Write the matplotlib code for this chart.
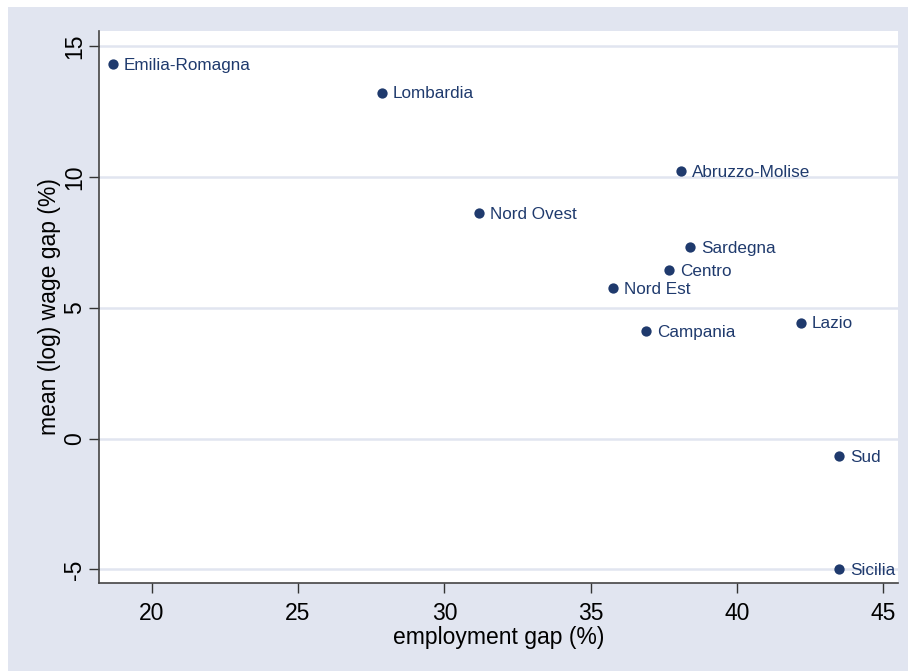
import matplotlib
matplotlib.use('Agg')
import matplotlib.pyplot as plt
from matplotlib.patches import Rectangle

# data
regions = ['Emilia-Romagna', 'Lombardia', 'Abruzzo-Molise', 'Nord Ovest', 'Sardegna',
           'Centro', 'Nord Est', 'Campania', 'Lazio', 'Sud', 'Sicilia']
emp_gap = [18.67, 27.86, 38.07, 31.18, 38.38, 37.66, 35.77, 36.88, 42.17, 43.47, 43.47]
wage_gap = [14.30, 13.22, 10.23, 8.61, 7.32, 6.44, 5.76, 4.11, 4.43, -0.66, -5.0]
x_ticks = [20, 25, 30, 35, 40, 45]
y_ticks = [-5, 0, 5, 10, 15]

navy = '#1f3a6d'
bg = '#e1e5f0'

plt.rcParams['font.family'] = ['Liberation Sans', 'DejaVu Sans']

fig = plt.figure(figsize=(9.08, 6.71), dpi=100, facecolor='white')
fig.patches.append(Rectangle((8/908, 0), 1, 1 - 7/671, transform=fig.transFigure,
                             facecolor=bg, edgecolor='none', zorder=-10))
ax = fig.add_axes([99/908, 1 - 583/671, 799/908, 552/671])
ax.set_facecolor('white')

ax.scatter(emp_gap, wage_gap, s=55, color=navy, zorder=3, linewidths=0)
for name, x, y in zip(regions, emp_gap, wage_gap):
    ax.annotate(name, (x, y), xytext=(8, -1), textcoords='offset points',
                va='center', ha='left', fontsize=12.3, color=navy)

ax.set_xlim(18.2, 45.5)
ax.set_ylim(-5.52, 15.57)
ax.set_xticks(x_ticks)
ax.set_yticks(y_ticks)
ax.set_yticklabels([str(t) for t in y_ticks], rotation=90, va='center')
ax.tick_params(axis='both', length=7.5, width=1, color='#333333', labelsize=16.5)
ax.tick_params(axis='x', pad=6)
ax.tick_params(axis='y', pad=2)

ax.grid(axis='y', color=bg, linewidth=1.8, zorder=0)
ax.set_axisbelow(True)
for s in ['top', 'right']:
    ax.spines[s].set_visible(False)
for s in ['left', 'bottom']:
    ax.spines[s].set_color('#444444')
    ax.spines[s].set_linewidth(1.2)

ax.set_xlabel('employment gap (%)', fontsize=16.5)
ax.set_ylabel('mean (log) wage gap (%)', fontsize=16.5)
ax.xaxis.set_label_coords(0.5, -0.077)
ax.yaxis.set_label_coords(-0.047, 0.5)

fig.savefig('out.png', dpi=100, facecolor=fig.get_facecolor())
